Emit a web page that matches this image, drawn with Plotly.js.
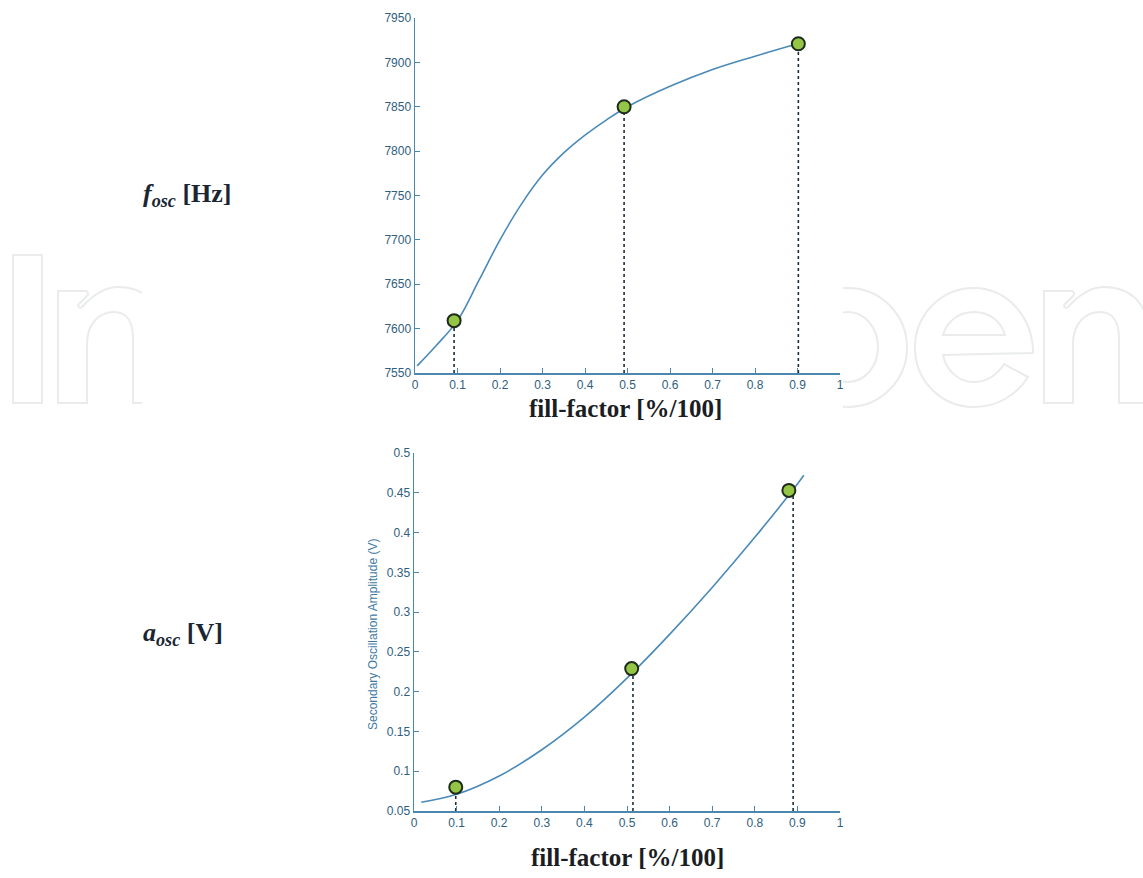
<!DOCTYPE html>
<html>
<head>
<meta charset="utf-8">
<script src="https://cdn.plot.ly/plotly-3.0.1.min.js"></script>
<style>html,body{margin:0;padding:0;background:#fff;}#chart{width:1143px;height:878px;}</style>
</head>
<body>
<div id="chart"></div>
<script>
// ---- data ----
const freqCurveX = [0.005, 0.05, 0.1, 0.15, 0.2, 0.25, 0.3, 0.35, 0.4, 0.45, 0.5, 0.6, 0.7, 0.8, 0.9];
const freqCurveY = [7558, 7581, 7609, 7654, 7700, 7740, 7773, 7798, 7818, 7835, 7850, 7873, 7892, 7907, 7921];
const freqPointsX = [0.092, 0.492, 0.902];
const freqPointsY = [7609, 7850, 7921];

const ampCurveX = [0.017, 0.1, 0.2, 0.3, 0.4, 0.5, 0.6, 0.7, 0.8, 0.9, 0.915];
const ampCurveY = [0.061, 0.071, 0.094, 0.127, 0.168, 0.217, 0.272, 0.331, 0.394, 0.461, 0.472];
const ampPointsX = [0.098, 0.511, 0.880];
const ampPointsY = [0.080, 0.229, 0.453];
const ampDropX = [0.098, 0.514, 0.890];

const xTickVals = [0, 0.1, 0.2, 0.3, 0.4, 0.5, 0.6, 0.7, 0.8, 0.9, 1];
const freqRange = [7550, 7950];
const ampRange = [0.05, 0.5];

// ---- helpers for pixel -> paper ----
const W = 1143, H = 878;
const px = x => x / W;
const py = y => 1 - y / H;
const toPaper = d => d.replace(/(-?[\d.]+),(-?[\d.]+)/g, (m, a, b) => px(+a).toFixed(5) + ',' + py(+b).toFixed(5));

const curveColor = '#4a8ab8';
const axisColor = '#4c87ae';
const tickFontColor = '#2f5e7e';
const markerStyle = {size: 13, color: '#94c545', line: {color: '#1d2b1d', width: 2}};
const dropStyle = {color: '#1e2d3c', width: 1.6, dash: 'dot'};

function dropTraces(xs, ys, base, xa, ya) {
  return xs.map((x, i) => ({
    x: [x, x], y: [base, ys[i]], xaxis: xa, yaxis: ya,
    mode: 'lines', line: dropStyle, hoverinfo: 'skip'
  }));
}

const traces = [
  ...dropTraces(freqPointsX, freqPointsY, freqRange[0], 'x', 'y'),
  {x: freqCurveX, y: freqCurveY, xaxis: 'x', yaxis: 'y', mode: 'lines',
   line: {color: curveColor, width: 1.6, shape: 'spline', smoothing: 1}},
  {x: freqPointsX, y: freqPointsY, xaxis: 'x', yaxis: 'y', mode: 'markers', marker: markerStyle},
  ...dropTraces(ampDropX, ampPointsY, ampRange[0], 'x2', 'y2'),
  {x: ampCurveX, y: ampCurveY, xaxis: 'x2', yaxis: 'y2', mode: 'lines',
   line: {color: curveColor, width: 1.6, shape: 'spline', smoothing: 1}},
  {x: ampPointsX, y: ampPointsY, xaxis: 'x2', yaxis: 'y2', mode: 'markers', marker: markerStyle}
];

const axisCommon = {
  showline: true, linecolor: axisColor, linewidth: 1.5,
  ticks: 'inside', ticklen: 5, tickcolor: axisColor, tickwidth: 1,
  showgrid: false, zeroline: false, mirror: false, fixedrange: true,
  tickfont: {family: 'Liberation Sans, Arial, sans-serif', size: 12, color: tickFontColor}
};

// ---- watermark shapes (decoration) ----
const wm = {color: '#e9ebec', width: 2};
const nPath = 'M58,403 L58,291 L85,291 C88,291 89,294 87,296 L79,304 C77,306 79,309 82,307 C93,295 105,287 118,287 C144,287 162,303 162,332 L162,403 L133,403 L133,338 C133,321 126,312 114,312 C99,312 87,324 87,344 L87,403 Z';
const shift = (d, dx) => d.replace(/(-?[\d.]+),(-?[\d.]+)/g, (m, a, b) => (+a + dx) + ',' + b);
const ePath = 'M1033,353 C1033,317 1007,288 974,288 C941,288 915,315 915,347.5 C915,381 941,407 974,407 C997,407 1017,395 1028,377 L1004,364 C997,375 987,382 974,382 C958,382 946,370 943,355 Z';
const eHole = 'M943,335 L1005,335 C1001,321 989,312 974,312 C959,312 947,321 943,335 Z';

const shapes = [
  {type: 'rect', xref: 'paper', yref: 'paper', x0: px(13), x1: px(42), y0: py(403), y1: py(255), line: wm, layer: 'below'},
  {type: 'path', xref: 'paper', yref: 'paper', path: toPaper(nPath), line: wm, layer: 'below'},
  {type: 'path', xref: 'paper', yref: 'paper', path: toPaper(shift(nPath, 986)), line: wm, layer: 'below'},
  {type: 'path', xref: 'paper', yref: 'paper', path: toPaper(ePath), line: wm, layer: 'below'},
  {type: 'path', xref: 'paper', yref: 'paper', path: toPaper(eHole), line: wm, layer: 'below'},
  {type: 'circle', xref: 'paper', yref: 'paper', x0: px(789), x1: px(907), y0: py(407), y1: py(288), line: wm, layer: 'below'},
  {type: 'circle', xref: 'paper', yref: 'paper', x0: px(818), x1: px(878), y0: py(382), y1: py(312), line: wm, layer: 'below'},
  {type: 'rect', xref: 'paper', yref: 'paper', x0: px(142), x1: px(843), y0: py(425), y1: py(235), fillcolor: '#ffffff', line: {width: 0}, layer: 'below'}
];

const serif = 'Liberation Serif, Times New Roman, serif';
const annotations = [
  {xref: 'paper', yref: 'paper', x: px(625), y: py(409), text: '<b>fill-factor [%/100]</b>', showarrow: false,
   font: {family: serif, size: 25, color: '#1a1d22'}, xanchor: 'center', yanchor: 'middle'},
  {xref: 'paper', yref: 'paper', x: px(627), y: py(857), text: '<b>fill-factor [%/100]</b>', showarrow: false,
   font: {family: serif, size: 25, color: '#1a1d22'}, xanchor: 'center', yanchor: 'middle'},
  {xref: 'paper', yref: 'paper', x: px(141), y: py(195), text: '<b><i>f</i></b><sub><b><i>osc</i></b></sub> <b>[Hz]</b>', showarrow: false,
   font: {family: serif, size: 26, color: '#1b2633'}, xanchor: 'left', yanchor: 'middle'},
  {xref: 'paper', yref: 'paper', x: px(141), y: py(634), text: '<b><i>a</i></b><sub><b><i>osc</i></b></sub> <b>[V]</b>', showarrow: false,
   font: {family: serif, size: 26, color: '#1b2633'}, xanchor: 'left', yanchor: 'middle'},
  {xref: 'paper', yref: 'paper', x: px(373), y: py(635), text: 'Secondary Oscillation Amplitude (V)', showarrow: false, textangle: -90,
   font: {family: 'Liberation Sans, Arial, sans-serif', size: 12, color: '#3f7aa3'}, xanchor: 'center', yanchor: 'middle'}
];

const layout = {
  width: W, height: H,
  margin: {l: 0, r: 0, t: 0, b: 0},
  paper_bgcolor: '#ffffff', plot_bgcolor: 'rgba(0,0,0,0)',
  showlegend: false, hovermode: false,
  xaxis: Object.assign({}, axisCommon, {domain: [px(415), px(840)], range: [0, 1], tickvals: xTickVals, anchor: 'y'}),
  yaxis: Object.assign({}, axisCommon, {domain: [py(373), py(18)], range: freqRange, dtick: 50, tick0: 7550, anchor: 'x'}),
  xaxis2: Object.assign({}, axisCommon, {domain: [px(414), px(840)], range: [0, 1], tickvals: xTickVals, anchor: 'y2'}),
  yaxis2: Object.assign({}, axisCommon, {domain: [py(811), py(453)], range: ampRange, dtick: 0.05, tick0: 0.05, anchor: 'x2'}),
  shapes: shapes,
  annotations: annotations
};

Plotly.newPlot('chart', traces, layout, {displayModeBar: false, staticPlot: true});
</script>
</body>
</html>
